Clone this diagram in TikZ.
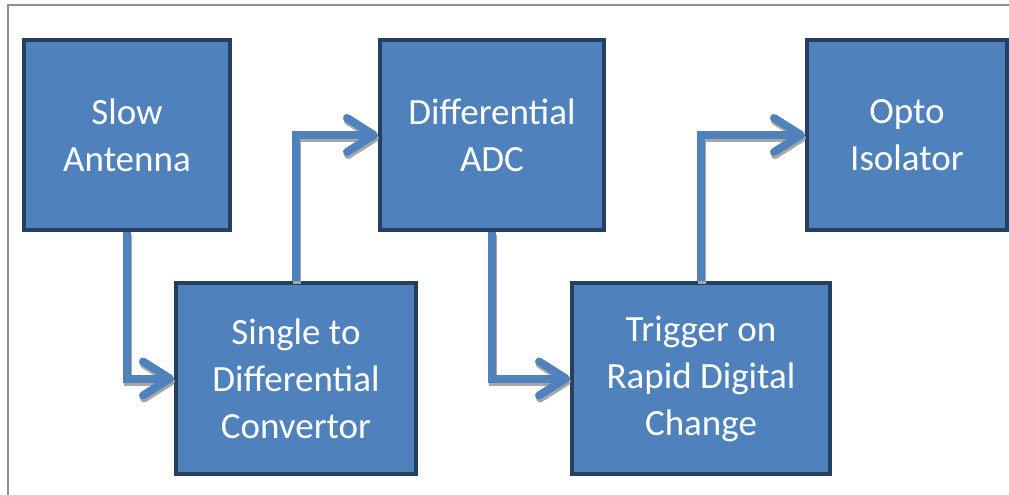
\documentclass[tikz,border=0pt]{standalone}
\usepackage{fontspec}
\setmainfont{Carlito}
\usetikzlibrary{arrows.meta}
\definecolor{boxfill}{HTML}{4F81BD}
\definecolor{boxline}{HTML}{243F60}
\definecolor{shadowgray}{HTML}{A6A6A6}
\definecolor{framegray}{HTML}{8E8E8E}
\begin{document}
\begin{tikzpicture}[x=1pt,y=-1pt,
  blk/.style={draw=boxline, fill=boxfill, line width=4pt, text=white,
    font=\fontsize{37}{47}\selectfont, align=center, inner sep=0pt},
  flow/.style={draw=boxfill, line width=8pt, line join=miter,
    -{Straight Barb[length=27pt,width=34pt,line cap=round,line join=round]}},
  flowshadow/.style={flow, draw=shadowgray, transform canvas={shift={(1pt,-3pt)}}}]
  \useasboundingbox (0,0) rectangle (1009,495);
  % page frame
  \draw[framegray, line width=2pt] (8,495) -- (8,5) -- (1009,5);
  % blocks
  \node[blk, minimum width=206pt, minimum height=190pt] (ant)  at (127,135)   {Slow\\Antenna};
  \node[blk, minimum width=240pt, minimum height=191pt] (conv) at (296,378.5) {Single to\\Differential\\Convertor};
  \node[blk, minimum width=224pt, minimum height=190pt] (adc)  at (492,135)   {Differential\\ADC};
  \node[blk, minimum width=258pt, minimum height=191pt] (trig) at (701,378.5) {Trigger on\\Rapid Digital\\Change};
  \node[blk, minimum width=200pt, minimum height=190pt] (opto) at (907,135)   {Opto\\Isolator};
  % connector shadows
  \draw[flowshadow] (ant.south)  |- (conv.west);
  \draw[flowshadow] (conv.north) |- (adc.west);
  \draw[flowshadow] (adc.south)  |- (trig.west);
  \draw[flowshadow] (trig.north) |- (opto.west);
  % connectors
  \draw[flow] (ant.south)  |- (conv.west);
  \draw[flow] (conv.north) |- (adc.west);
  \draw[flow] (adc.south)  |- (trig.west);
  \draw[flow] (trig.north) |- (opto.west);
\end{tikzpicture}
\end{document}
